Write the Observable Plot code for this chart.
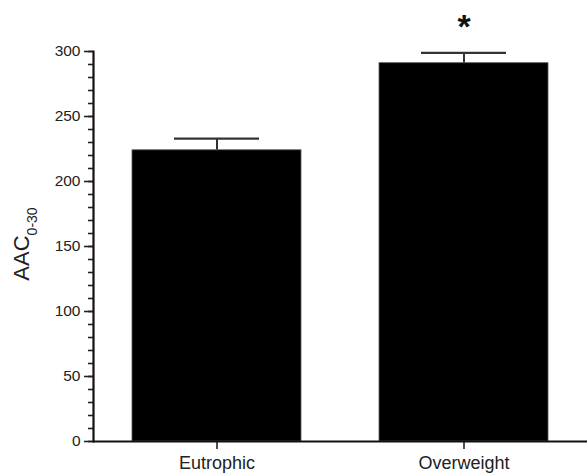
<!DOCTYPE html>
<html>
<head>
<meta charset="utf-8">
<script src="https://cdn.jsdelivr.net/npm/d3@7"></script>
<script src="https://cdn.jsdelivr.net/npm/@observablehq/plot@0.6"></script>
<style>
  html, body { margin: 0; padding: 0; background: #fff; }
  #chart svg { display: block; }
</style>
</head>
<body>
<div id="chart"></div>
<script>
const groups = ["Eutrophic", "Overweight"];
const means = [224, 291];
const errors = [9, 8];
const significance = ["", "*"];
const majorTicks = [0, 50, 100, 150, 200, 250, 300];
const minorTicks = d3.range(0, 301, 10);

const data = groups.map((g, i) => ({group: g, mean: means[i], err: errors[i], top: means[i] + errors[i], sig: significance[i]}));

const font = "'Liberation Sans', Arial, Helvetica, sans-serif";

const chart = Plot.plot({
  width: 587,
  height: 475,
  marginLeft: 93,
  marginRight: 0,
  marginTop: 51,
  marginBottom: 34,
  style: {fontFamily: font, color: "#222", background: "#fff", overflow: "visible"},
  x: {type: "band", domain: groups, paddingInner: 0.317, paddingOuter: 0.1585, label: null},
  y: {domain: [0, 300], label: null},
  marks: [
    Plot.ruleX(data, {x: "group", y1: "mean", y2: "top", stroke: "#333", strokeWidth: 2}),
    Plot.tickY(data, {x: "group", y: "top", stroke: "#333", strokeWidth: 2.2, insetLeft: 42, insetRight: 42}),
    Plot.barY(data, {x: "group", y: "mean", fill: "#000", stroke: "#555", strokeWidth: 0.8}),
    Plot.text(data, {x: "group", y: "top", text: "sig", dy: -26, fontSize: 34, fontWeight: "bold", fill: "#111"}),
    Plot.axisY({ticks: minorTicks, tickSize: 5, tickFormat: null, text: null, stroke: "#222", strokeWidth: 1.6}),
    Plot.axisY({ticks: majorTicks, tickSize: 9, tickPadding: 4, fontSize: 15.5, stroke: "#222", strokeWidth: 1.6, fill: "#222", label: null}),
    Plot.axisX({tickSize: 8, tickPadding: 7, fontSize: 18, stroke: "#222", strokeWidth: 1.6, fill: "#222", label: null}),
    Plot.frame({anchor: "left", stroke: "#111", strokeWidth: 2.2}),
    Plot.ruleY([0], {stroke: "#111", strokeWidth: 2.2})
  ]
});

document.getElementById("chart").appendChild(chart);

// Y axis title with subscript
const svg = d3.select(chart);
const label = svg.append("text")
  .attr("transform", "translate(29,244) rotate(-90)")
  .attr("text-anchor", "middle")
  .attr("font-family", font)
  .attr("fill", "#222")
  .attr("font-size", 22);
label.append("tspan").text("AAC");
label.append("tspan").attr("font-size", 14).attr("dy", 8).text("0-30");
</script>
</body>
</html>
